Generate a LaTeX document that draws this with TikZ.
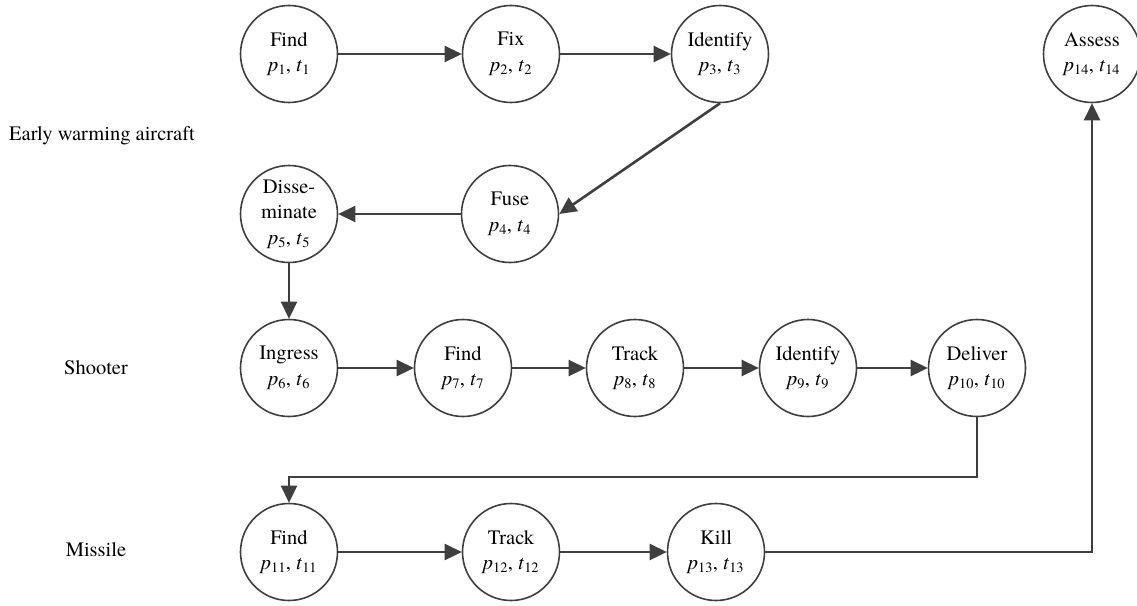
\documentclass[tikz,border=0pt]{standalone}
\usepackage{fontspec}
\setmainfont{TeX Gyre Termes}
\usetikzlibrary{arrows.meta}
\definecolor{ink}{HTML}{3F3F3F}
\newcommand{\pt}[1]{\textit{p}\textsubscript{#1}, \textit{t}\textsubscript{#1}}
\tikzset{
  stage/.style={circle, draw=ink, line width=1.6pt, minimum size=97pt, inner sep=0pt,
    align=center, font=\fontsize{20.5}{25.5}\selectfont},
  lane/.style={font=\fontsize{20.5}{25}\selectfont, anchor=center},
  flow/.style={draw=ink, line width=2.6pt, -{Triangle[length=17pt,width=16pt]}}
}
\begin{document}
\begin{tikzpicture}[x=1pt,y=-1pt]
\useasboundingbox (0,0) rectangle (1137,605);

% lane labels
\node[lane] (laneA) at (102,136) {Early warming aircraft};
\node[lane] (laneS) at (96,368) {Shooter};
\node[lane] (laneM) at (96,550) {Missile};

% early warning aircraft
\node[stage] (find1) at (289,54) {Find\\\pt{1}};
\node[stage] (fix2) at (511,54) {Fix\\\pt{2}};
\node[stage] (ident3) at (720,54) {Identify\\\pt{3}};
\node[stage] (fuse4) at (510,214) {Fuse\\\pt{4}};
\node[stage] (diss5) at (289,214) {Disse-\\minate\\\pt{5}};

% shooter
\node[stage] (ingr6) at (289,368) {Ingress\\\pt{6}};
\node[stage] (find7) at (463,368) {Find\\\pt{7}};
\node[stage] (track8) at (635,368) {Track\\\pt{8}};
\node[stage] (ident9) at (808,368) {Identify\\\pt{9}};
\node[stage] (deliv10) at (977,368) {Deliver\\\pt{10}};

% missile
\node[stage] (find11) at (289,552) {Find\\\pt{11}};
\node[stage] (track12) at (511,552) {Track\\\pt{12}};
\node[stage] (kill13) at (716,552) {Kill\\\pt{13}};

% assessment
\node[stage] (assess14) at (1092,54) {Assess\\\pt{14}};

\coordinate (turn) at (977,477);

\draw[flow] (find1) -- (fix2);
\draw[flow] (fix2) -- (ident3);
\draw[flow] (ident3.south) -- (fuse4.east);
\draw[flow] (fuse4) -- (diss5);
\draw[flow] (diss5) -- (ingr6);
\draw[flow] (ingr6) -- (find7);
\draw[flow] (find7) -- (track8);
\draw[flow] (track8) -- (ident9);
\draw[flow] (ident9) -- (deliv10);
\draw[flow] (deliv10) -- (turn) -| (find11);
\draw[flow] (find11) -- (track12);
\draw[flow] (track12) -- (kill13);
\draw[flow] (kill13) -| (assess14);
\end{tikzpicture}
\end{document}
